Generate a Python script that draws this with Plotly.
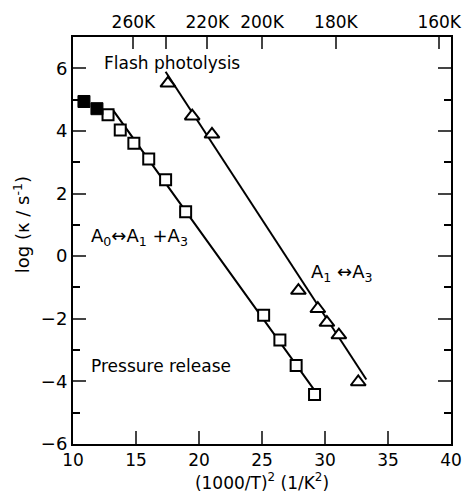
import plotly.graph_objects as go

# Pressure release (squares)
sq_filled_x = [10.87, 11.90]
sq_filled_y = [4.94, 4.71]
sq_open_x = [12.78, 13.75, 14.83, 16.01, 17.35, 18.94, 25.13, 26.42, 27.71, 29.17]
sq_open_y = [4.52, 4.03, 3.61, 3.10, 2.44, 1.42, -1.89, -2.68, -3.49, -4.42]
sq_fit_x = [12.3, 13.2, 29.3]
sq_fit_y = [4.65, 4.65, -4.36]

# Flash photolysis (triangles)
tri_x = [17.53, 19.46, 21.03, 27.89, 29.43, 30.15, 31.10, 32.64]
tri_y = [5.52, 4.47, 3.89, -1.10, -1.68, -2.12, -2.52, -4.02]
tri_fit_x = [17.35, 33.28]
tri_fit_y = [5.89, -3.94]

# Top temperature axis
temps_K = [260, 240, 220, 200, 180, 160]
temp_labels = ["260K", "", "220K", "200K", "180K", "160K"]
temp_pos = [(1000.0 / t) ** 2 for t in temps_K]

x_ticks = [10, 15, 20, 25, 30, 35, 40]
y_ticks = [-6, -4, -2, 0, 2, 4, 6]

FONT = "DejaVu Sans"
fig = go.Figure()

fig.add_trace(go.Scatter(x=sq_fit_x, y=sq_fit_y, mode="lines",
                         line=dict(color="black", width=2), showlegend=False))
fig.add_trace(go.Scatter(x=tri_fit_x, y=tri_fit_y, mode="lines",
                         line=dict(color="black", width=2), showlegend=False))
fig.add_trace(go.Scatter(x=sq_open_x, y=sq_open_y, mode="markers",
                         marker=dict(symbol="square", size=11, color="white",
                                     line=dict(color="black", width=2)),
                         showlegend=False))
fig.add_trace(go.Scatter(x=sq_filled_x, y=sq_filled_y, mode="markers",
                         marker=dict(symbol="square", size=12, color="black",
                                     line=dict(color="black", width=1)),
                         showlegend=False))
fig.add_trace(go.Scatter(x=tri_x, y=tri_y, mode="markers",
                         marker=dict(symbol="triangle-up", size=13, color="white",
                                     line=dict(color="black", width=2)),
                         showlegend=False))
# invisible trace for top axis
fig.add_trace(go.Scatter(x=[10, 40], y=[0, 0], xaxis="x2", mode="markers",
                         marker=dict(opacity=0), showlegend=False, hoverinfo="skip"))

fig.update_layout(
    width=474, height=494,
    margin=dict(l=73, r=12, t=33, b=44),
    plot_bgcolor="white", paper_bgcolor="white",
    font=dict(family=FONT, size=17, color="black"),
    xaxis=dict(range=[10, 40], tickvals=x_ticks, ticks="inside", ticklen=13,
               tickwidth=2, showline=True, linewidth=2, linecolor="black",
               showgrid=False, zeroline=False, tickfont=dict(size=17),
               title=dict(text="(1000/T)<sup>2</sup> (1/K<sup>2</sup>)",
                          font=dict(size=17), standoff=0)),
    xaxis2=dict(range=[10, 40], overlaying="x", side="top", tickvals=temp_pos,
                ticktext=temp_labels, ticks="inside", ticklen=12, tickwidth=2,
                showline=True, linewidth=2, linecolor="black", showgrid=False,
                zeroline=False, tickfont=dict(size=17)),
    yaxis=dict(range=[-6, 7], tickvals=y_ticks, ticks="inside", ticklen=13,
               tickwidth=2, showline=True, linewidth=2, linecolor="black",
               mirror="ticks", showgrid=False, zeroline=False,
               tickfont=dict(size=18),
               minor=dict(tickvals=[-5, -3, -1, 1, 3, 5], ticks="inside",
                          ticklen=7, tickwidth=2, tickcolor="black")),
)

fig.add_annotation(x=-0.135, y=0.54, xref="paper", yref="paper", xanchor="center",
                   yanchor="middle", text="log (\u03ba / s<sup>-1</sup>)", textangle=-90,
                   showarrow=False, font=dict(size=18))
fig.add_annotation(x=12.3, y=6.17, text="Flash photolysis", showarrow=False,
                   xanchor="left", yanchor="middle", font=dict(size=17))
fig.add_annotation(x=11.3, y=-3.51, text="Pressure release", showarrow=False,
                   xanchor="left", yanchor="middle", font=dict(size=17))
fig.add_annotation(x=11.3, y=0.6, text="A<sub>0</sub>\u2194A<sub>1</sub> +A<sub>3</sub>",
                   showarrow=False, xanchor="left", yanchor="middle", font=dict(size=18))
fig.add_annotation(x=28.7, y=-0.55, text="A<sub>1</sub> \u2194A<sub>3</sub>",
                   showarrow=False, xanchor="left", yanchor="middle", font=dict(size=18))

fig.write_html("out.html")
